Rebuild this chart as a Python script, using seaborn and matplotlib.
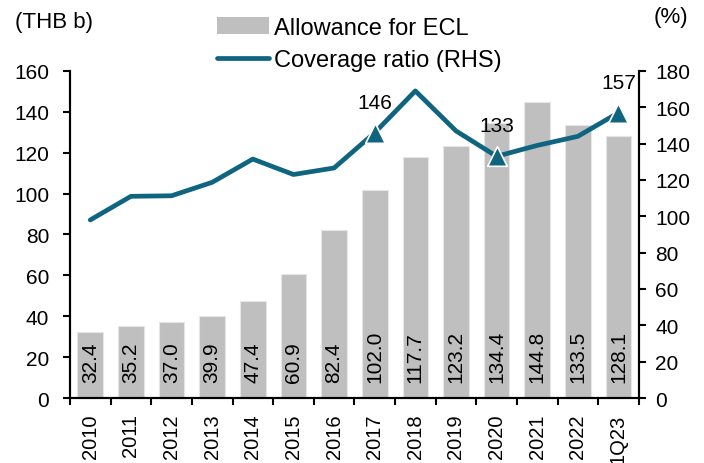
import numpy as np
import pandas as pd
import matplotlib
matplotlib.use('Agg')
import matplotlib.pyplot as plt
from matplotlib.ticker import FixedLocator, NullFormatter
from matplotlib.patches import Patch
from matplotlib.lines import Line2D
import seaborn as sns

sns.set_style('white')
plt.rcParams['font.family'] = ['Liberation Sans', 'DejaVu Sans']
plt.rcParams['text.color'] = 'black'
plt.rcParams['xtick.color'] = 'black'
plt.rcParams['ytick.color'] = 'black'

periods = ['2010', '2011', '2012', '2013', '2014', '2015', '2016',
           '2017', '2018', '2019', '2020', '2021', '2022', '1Q23']
allowance = [32.4, 35.2, 37.0, 39.9, 47.4, 60.9, 82.4,
             102.0, 117.7, 123.2, 134.4, 144.8, 133.5, 128.1]
coverage = [98, 111, 111.3, 118.7, 131.5, 123, 126.6,
            146, 169, 147, 133, 139, 144, 157]
marked = ['2017', '2020', '1Q23']

bar_color = '#BFBFBF'
line_color = '#0F6580'

df = pd.DataFrame({'period': periods, 'allowance': allowance, 'coverage': coverage})
df['pos'] = np.arange(len(df))

fig = plt.figure(figsize=(7.04, 4.64), dpi=100)
ax = fig.add_axes([0.0994, 0.140, 0.808, 0.705])

# bars on the left axis, values written inside
sns.barplot(data=df, x='period', y='allowance', color=bar_color, saturation=1,
            width=0.63, edgecolor='#E6E6E6', linewidth=0.8, ax=ax)
for i, v in enumerate(allowance):
    ax.text(i, 7.8, f'{v:.1f}', rotation=90, ha='center', va='bottom', fontsize=15)

ax.set_ylim(0, 160)
ax.set_xlim(-0.5, len(periods) - 0.5)
ax.set_yticks(range(0, 161, 20))
ax.set_xlabel('')
ax.set_ylabel('')
ax.tick_params(axis='x', which='major', length=0, labelsize=14.5, rotation=90, pad=11)
ax.xaxis.set_minor_locator(FixedLocator(np.arange(-0.5, len(periods), 1)))
ax.xaxis.set_minor_formatter(NullFormatter())
ax.tick_params(axis='x', which='minor', length=5, width=1.5, direction='out', bottom=True)
ax.tick_params(axis='y', length=5, width=1.5, direction='out', labelsize=15, left=True, pad=10)

# coverage ratio on the right axis
ax2 = ax.twinx()
sns.lineplot(data=df, x='pos', y='coverage', color=line_color, linewidth=3.4, ax=ax2)
mk = df[df['period'].isin(marked)]
ax2.scatter(mk['pos'], mk['coverage'], marker='^', s=200, color=line_color,
            edgecolor='white', linewidth=1.2, zorder=5)
for _, r in mk.iterrows():
    ax2.annotate(f"{r['coverage']:.0f}", (r['pos'], r['coverage']), xytext=(0, 18),
                 textcoords='offset points', ha='center', va='baseline', fontsize=15)
ax2.set_ylim(0, 180)
ax2.set_yticks(range(0, 181, 20))
ax2.set_xlim(-0.5, len(periods) - 0.5)
ax2.set_xlabel('')
ax2.set_ylabel('')
ax2.tick_params(axis='y', length=5, width=1.5, direction='out', labelsize=15, right=True, pad=7)

for a in (ax, ax2):
    a.spines['top'].set_visible(False)
    for s in ('left', 'right', 'bottom'):
        a.spines[s].set_linewidth(1.5)
        a.spines[s].set_color('black')

fig.text(0.021, 0.952, '(THB b)', fontsize=16, va='center')
fig.text(0.978, 0.962, '(%)', fontsize=16, va='center', ha='right')

handles = [Patch(facecolor=bar_color, edgecolor='none'),
           Line2D([0], [0], color=line_color, linewidth=3.4)]
fig.legend(handles, ['Allowance for ECL', 'Coverage ratio (RHS)'], loc='upper center',
           bbox_to_anchor=(0.51, 1.008), frameon=False, fontsize=17, handlelength=2.2,
           handletextpad=0.2, labelspacing=0.45)

fig.savefig('out.png', dpi=100)
